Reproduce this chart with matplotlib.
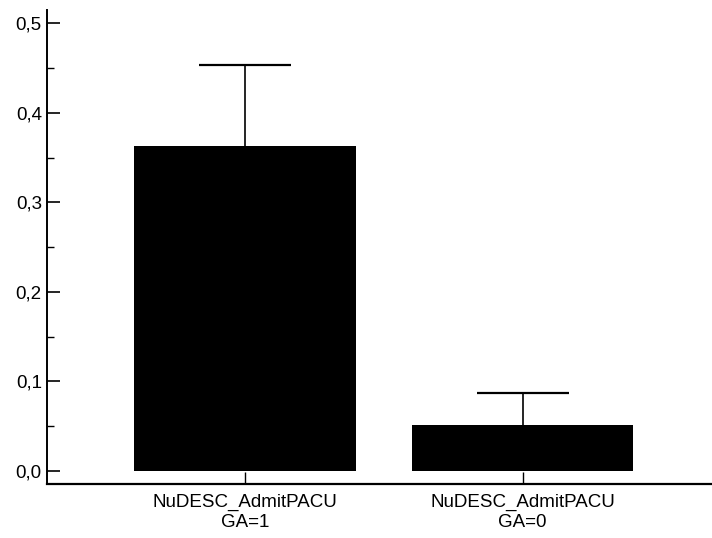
import numpy as np
import matplotlib
matplotlib.use('Agg')
import matplotlib.pyplot as plt
from matplotlib.ticker import MultipleLocator, FuncFormatter

# data
labels = ['NuDESC_AdmitPACU\nGA=1', 'NuDESC_AdmitPACU\nGA=0']
means = [0.363, 0.051]
errs = [0.091, 0.036]

plt.rcParams['font.family'] = ['Liberation Sans', 'DejaVu Sans']

fig = plt.figure(figsize=(7.12, 5.38), dpi=100)
ax = fig.add_axes([0.0656, 0.1004, 0.9344, 0.881])

x = np.arange(len(means))
# error bars sit behind the black bars, so only the upper half shows
ax.errorbar(x, means, yerr=errs, fmt='none', ecolor='black',
            elinewidth=1.2, capsize=33, capthick=1.6, zorder=1)
ax.bar(x, means, width=0.8, color='black', zorder=2)

ax.set_xlim(-0.7165, 1.6836)
ax.set_ylim(-0.0147, 0.5149)

ax.spines['top'].set_visible(False)
ax.spines['right'].set_visible(False)
ax.spines['left'].set_linewidth(1.4)
ax.spines['bottom'].set_linewidth(1.6)

ax.yaxis.set_major_locator(MultipleLocator(0.1))
ax.yaxis.set_minor_locator(MultipleLocator(0.05))
ax.yaxis.set_major_formatter(FuncFormatter(lambda v, p: f'{v:.1f}'.replace('.', ',')))
ax.tick_params(axis='y', which='major', direction='in', length=9.5, width=1.2,
               labelsize=13.5, pad=3.5)
ax.tick_params(axis='y', which='minor', direction='in', length=5, width=1.0)

ax.set_xticks(x)
ax.set_xticklabels(labels, linespacing=1.22)
ax.tick_params(axis='x', direction='in', length=9, width=1.0, labelsize=13.5, pad=7)

fig.savefig('out.png', dpi=100)
